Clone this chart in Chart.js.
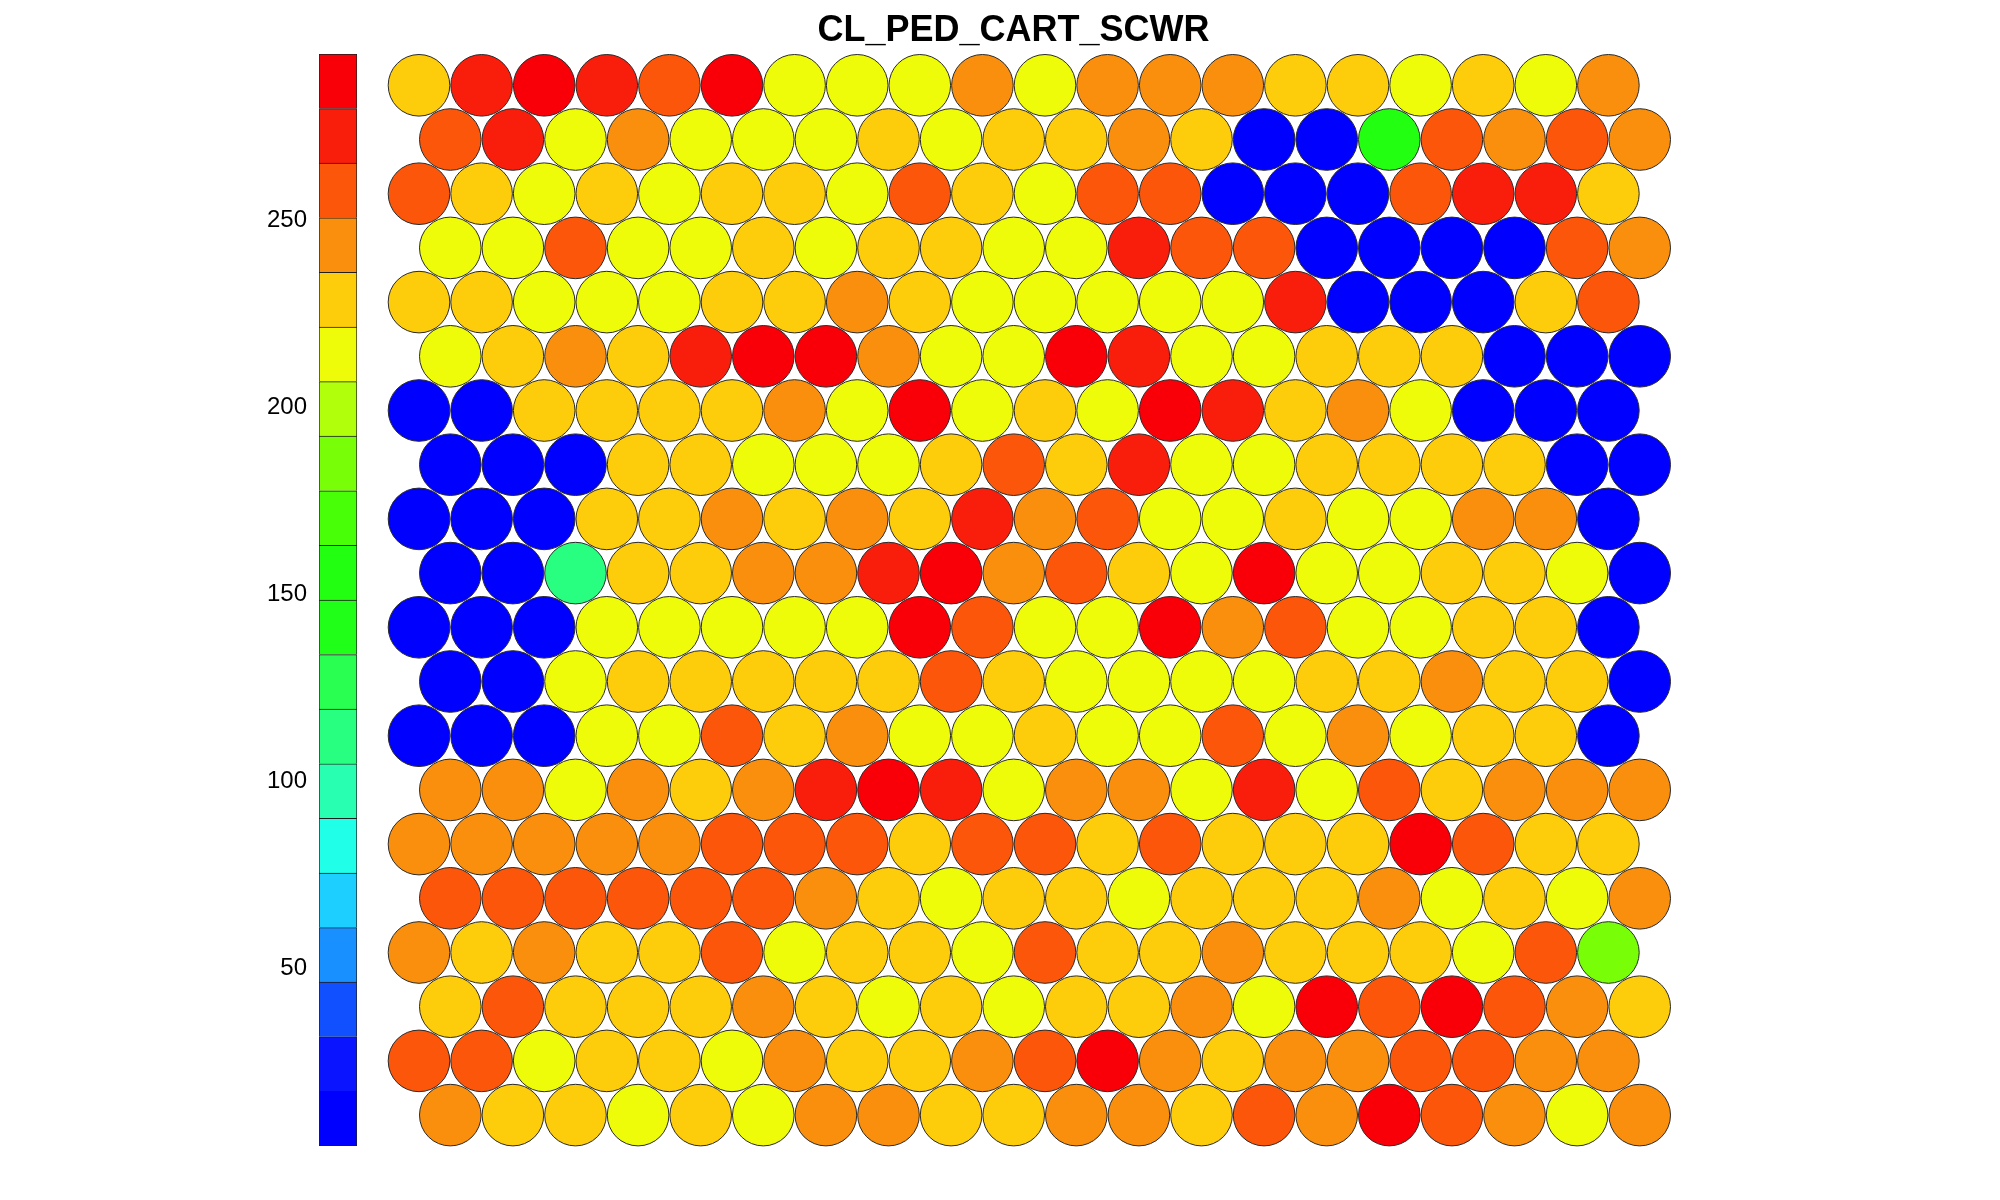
<!DOCTYPE html>
<html>
<head>
<meta charset="utf-8">
<script src="https://cdn.jsdelivr.net/npm/chart.js@4/dist/chart.umd.min.js"></script>
<style>
  html, body { margin: 0; padding: 0; background: #ffffff; }
  #wrap { position: relative; width: 2000px; height: 1200px; overflow: hidden; background: #fff; }
  #hex { position: absolute; left: 0; top: 0; }
  #bar { position: absolute; left: 0; top: 0; }
</style>
</head>
<body>
<div id="wrap">
  <canvas id="hex" width="2000" height="1200"></canvas>
  <canvas id="bar" width="400" height="1200"></canvas>
</div>
<script>
// ---------------- DATA ----------------
const TITLE = "CL_PED_CART_SCWR";

// colour scale limits and tick labels of the colour bar
const CB_MIN = 2.5;
const CB_MAX = 294.5;
const CB_TICKS = [50, 100, 150, 200, 250];

// colour of each of the 20 colour-bar bins (low -> high)
const BIN_COLORS = [
  "#0000ff", "#0a14ff", "#1050ff", "#1890ff", "#1ccfff",
  "#20ffe8", "#28ffb0", "#28ff80", "#28ff50", "#20ff18",
  "#22ff10", "#48ff08", "#78ff08", "#b2ff0c", "#eefc0a",
  "#fdcc0a", "#f98f0c", "#fb560a", "#f91d0c", "#f90008"
];

// component-plane values, one array per map row (top -> bottom), 20 units each
const row00 = [229,273,287,273,258,287,214,214,214,243,214,243,243,243,229,229,214,229,214,243];
const row01 = [258,273,214,243,214,214,214,229,214,229,229,243,229,10,10,156,258,243,258,243];
const row02 = [258,229,214,229,214,229,229,214,258,229,214,258,258,10,10,10,258,273,273,229];
const row03 = [214,214,258,214,214,229,214,229,229,214,214,273,258,258,10,10,10,10,258,243];
const row04 = [229,229,214,214,214,229,229,243,229,214,214,214,214,214,273,10,10,10,229,258];
const row05 = [214,229,243,229,273,287,287,243,214,214,287,273,214,214,229,229,229,10,10,10];
const row06 = [10,10,229,229,229,229,243,214,287,214,229,214,287,273,229,243,214,10,10,10];
const row07 = [10,10,10,229,229,214,214,214,229,258,229,273,214,214,229,229,229,229,10,10];
const row08 = [10,10,10,229,229,243,229,243,229,273,243,258,214,214,229,214,214,243,243,10];
const row09 = [10,10,112,229,229,243,243,273,287,243,258,229,214,287,214,214,229,229,214,10];
const row10 = [10,10,10,214,214,214,214,214,287,258,214,214,287,243,258,214,214,229,229,10];
const row11 = [10,10,214,229,229,229,229,229,258,229,214,214,214,214,229,229,243,229,229,10];
const row12 = [10,10,10,214,214,258,229,243,214,214,229,214,214,258,214,243,214,229,229,10];
const row13 = [243,243,214,243,229,243,273,287,273,214,243,243,214,273,214,258,229,243,243,243];
const row14 = [243,243,243,243,243,258,258,258,229,258,258,229,258,229,229,229,287,258,229,229];
const row15 = [258,258,258,258,258,258,243,229,214,229,229,214,229,229,229,243,214,229,214,243];
const row16 = [243,229,243,229,229,258,214,229,229,214,258,229,229,243,229,229,229,214,258,185];
const row17 = [229,258,229,229,229,243,229,214,229,214,229,229,243,214,287,258,287,258,243,229];
const row18 = [258,258,214,229,229,214,243,229,229,243,258,287,243,229,243,243,258,258,243,243];
const row19 = [243,229,229,214,229,214,243,243,229,229,243,243,229,258,243,287,258,243,214,243];

const GRID = [row00,row01,row02,row03,row04,row05,row06,row07,row08,row09,
              row10,row11,row12,row13,row14,row15,row16,row17,row18,row19];

// ---------------- LAYOUT / STYLE ----------------
const FONT = "'Liberation Sans', Arial, Helvetica, sans-serif";
const NBINS = BIN_COLORS.length;
const BIN_W = (CB_MAX - CB_MIN) / NBINS;
const BIN_EDGES = BIN_COLORS.map((c, k) => CB_MIN + k * BIN_W).concat([CB_MAX]);

function colorFor(v) {
  let k = Math.floor((v - CB_MIN) / BIN_W);
  if (k < 0) k = 0;
  if (k > NBINS - 1) k = NBINS - 1;
  return BIN_COLORS[k];
}

const TITLE_SIZE = 36, TITLE_LH = 1.2, TITLE_PAD_TOP = 9;

// plot area in pixels, and the pixel size of one grid step
const PLOT = { left: 340, right: 1687, top: TITLE_PAD_TOP + TITLE_SIZE * TITLE_LH, bottom: 1180 };
const STEP_X = 62.6, STEP_Y = 54.2;
const FIRST = { x: 419, y: 85.3 };
const xMin = -(FIRST.x - PLOT.left) / STEP_X;
const xMax = xMin + (PLOT.right - PLOT.left) / STEP_X;
const yMin = -(FIRST.y - PLOT.top) / STEP_Y;
const yMax = yMin + (PLOT.bottom - PLOT.top) / STEP_Y;

// hexagonal topology: odd rows shifted right by half a unit
const points = [];
const colors = [];
GRID.forEach((row, r) => {
  row.forEach((v, c) => {
    points.push({ x: c + (r % 2) * 0.5, y: r, v: v });
    colors.push(colorFor(v));
  });
});

new Chart(document.getElementById('hex'), {
  type: 'scatter',
  data: {
    datasets: [{
      data: points,
      pointRadius: 30.8,
      pointHoverRadius: 30.8,
      pointBackgroundColor: colors,
      pointBorderColor: '#2a2a2a',
      pointBorderWidth: 1,
      clip: false
    }]
  },
  options: {
    responsive: false,
    devicePixelRatio: 1,
    animation: false,
    events: [],
    layout: {
      autoPadding: false,
      padding: { left: PLOT.left, right: 2000 - PLOT.right, top: 0, bottom: 1200 - PLOT.bottom }
    },
    plugins: {
      legend: { display: false },
      tooltip: { enabled: false },
      title: {
        display: true,
        text: TITLE,
        color: '#000000',
        font: { family: FONT, size: TITLE_SIZE, weight: 'bold', lineHeight: TITLE_LH },
        padding: { top: TITLE_PAD_TOP, bottom: 0 }
      }
    },
    scales: {
      x: { type: 'linear', display: false, min: xMin, max: xMax },
      y: { type: 'linear', display: false, reverse: true, min: yMin, max: yMax }
    }
  }
});

// ---------------- COLOUR BAR ----------------
const barDatasets = BIN_COLORS.map((col, k) => ({
  data: [[BIN_EDGES[k], BIN_EDGES[k + 1]]],
  backgroundColor: col,
  borderColor: '#1e1e1e',
  borderWidth: { top: 1, left: 1, right: 1, bottom: k === 0 ? 1 : 0 },
  borderSkipped: false,
  grouped: false,
  barPercentage: 1,
  categoryPercentage: 1
}));

new Chart(document.getElementById('bar'), {
  type: 'bar',
  data: { labels: [''], datasets: barDatasets },
  options: {
    responsive: false,
    devicePixelRatio: 1,
    animation: false,
    events: [],
    layout: { autoPadding: false, padding: { left: 0, right: 43, top: 54, bottom: 54 } },
    plugins: { legend: { display: false }, tooltip: { enabled: false }, title: { display: false } },
    scales: {
      x: { display: false },
      y: {
        type: 'linear',
        min: CB_MIN,
        max: CB_MAX,
        afterFit: (s) => { s.width = 319; },
        afterBuildTicks: (s) => { s.ticks = CB_TICKS.map(v => ({ value: v })); },
        grid: { display: false, drawTicks: false },
        border: { display: false },
        ticks: {
          color: '#000000',
          padding: 12,
          font: { family: FONT, size: 24 },
          callback: (v) => String(v)
        }
      }
    }
  }
});
</script>
</body>
</html>
